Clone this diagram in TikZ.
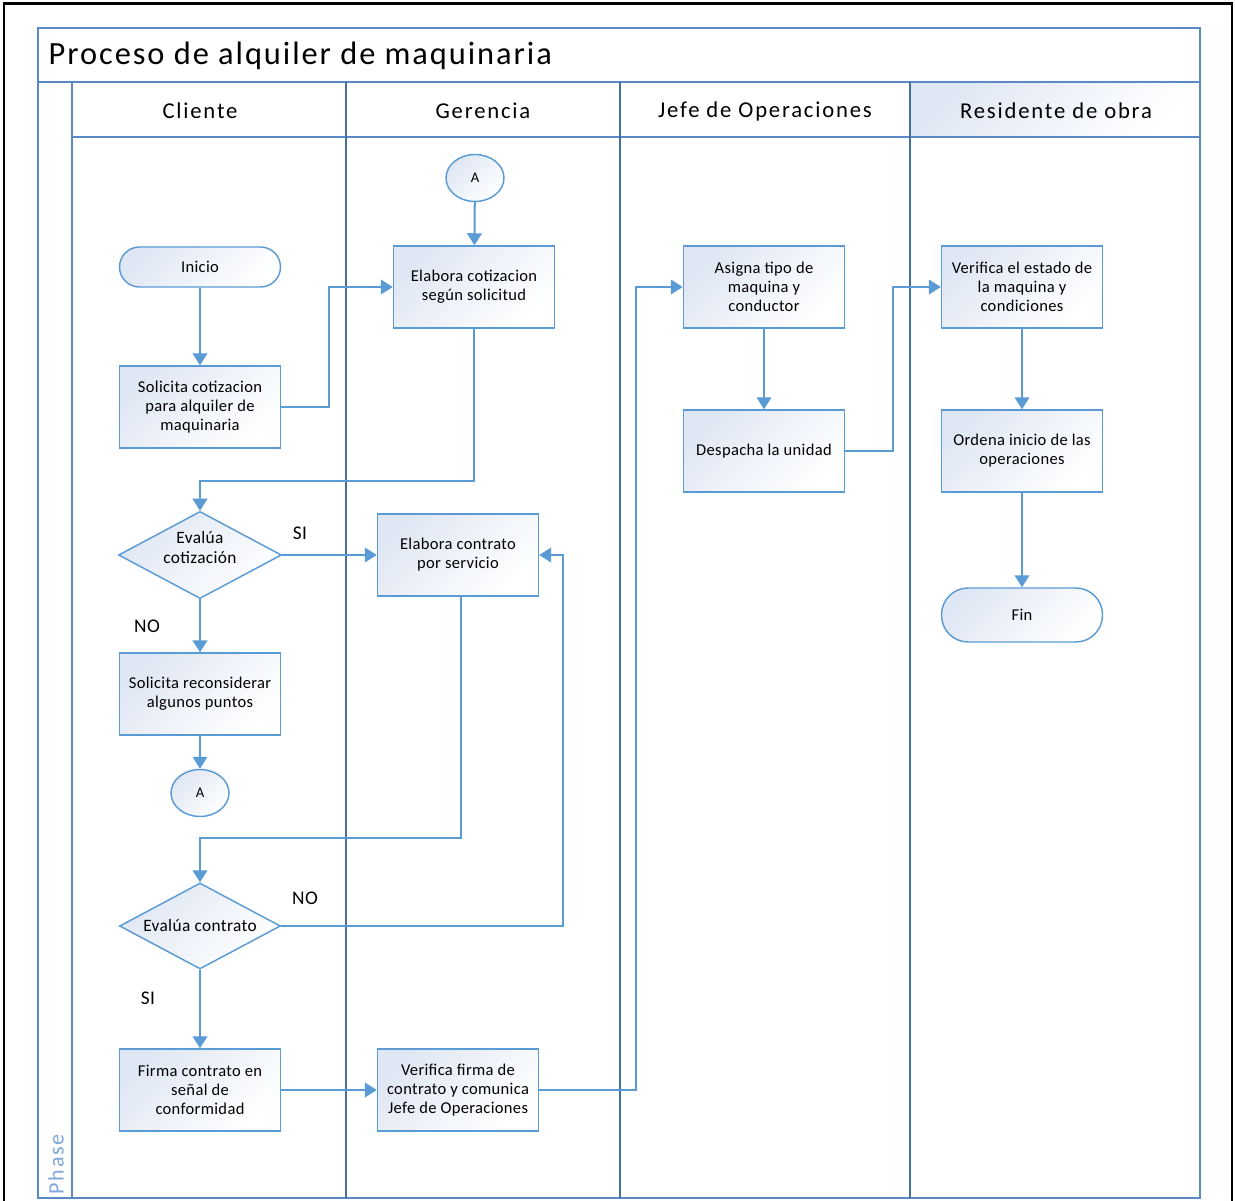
\documentclass[tikz,border=0pt]{standalone}
\usepackage{fontspec}
\setmainfont{Carlito}
\newfontfamily\titlefont[LetterSpace=6]{Carlito}
\newfontfamily\headfont[LetterSpace=8]{Carlito}
\newfontfamily\boxfont[LetterSpace=2]{Carlito}
\usetikzlibrary{shapes.geometric,arrows.meta}
\definecolor{conn}{HTML}{5B9BD5}
\definecolor{lane}{HTML}{41719C}
\definecolor{frame}{HTML}{5A8AC6}
\definecolor{boxfill}{HTML}{DFE7F4}
\definecolor{phasec}{HTML}{7FA7D9}
\tikzset{
  shade45/.style={top color=boxfill, bottom color=white, shading angle=45},
  proc/.style={draw=conn, line width=1.1pt, rectangle, minimum width=120.75pt, minimum height=61.5pt, inner sep=1pt, align=center, font=\boxfont\fontsize{12.4}{14.3}\selectfont, shade45},
  term/.style={proc, minimum height=30pt, rounded corners=15pt},
  termb/.style={proc, minimum height=40.5pt, rounded corners=20pt},
  dec/.style={draw=conn, line width=1.1pt, diamond, aspect=1.87, minimum width=120.75pt, minimum height=64.5pt, inner sep=0pt, align=center, font=\boxfont\fontsize{13}{15.5}\selectfont, shade45},
  conref/.style={draw=conn, line width=1.1pt, ellipse, minimum width=43.5pt, minimum height=35.25pt, inner sep=0pt, font=\boxfont\fontsize{11}{12}\selectfont, shade45},
  flow/.style={draw=conn, line width=1.5pt, -{Triangle[length=9pt,width=11pt]}},
  lbl/.style={font=\boxfont\fontsize{14.5}{16}\selectfont},
  hdr/.style={font=\headfont\fontsize{17}{19}\selectfont},
  lanel/.style={draw=lane, line width=1.5pt},
  framel/.style={draw=frame, line width=1.1pt}
}
\begin{document}
\begin{tikzpicture}[x=0.75pt,y=-0.75pt]
\useasboundingbox (0,0) rectangle (1235,1201);
\fill[white] (0,0) rectangle (1235,1201);
% outer black border
\draw[line width=2.2pt] (4,1215) -- (4,3.5) -- (1232,3.5) -- (1232,1215);
% Residente header fill
\shade[shade45] (910,82) rectangle (1200,137);
% frame
\draw[framel] (38,28) rectangle (1200,1198);
\draw[framel] (38,82) -- (1200,82);
\draw[framel] (72,82) -- (72,1198);
\draw[framel] (72,137) -- (1200,137);
% lane dividers
\draw[lanel] (346,82) -- (346,1198);
\draw[lanel] (620,82) -- (620,1198);
\draw[lanel] (910,82) -- (910,1198);
% titles
\node[anchor=west, font=\titlefont\fontsize{24.3}{27}\selectfont] (title) at (44,56) {Proceso de alquiler de maquinaria};
\node[hdr] (hcli) at (200,111) {Cliente};
\node[hdr] (hger) at (483,111) {Gerencia};
\node[hdr] (hjef) at (765,111) {Jefe de Operaciones};
\node[hdr] (hres) at (1056,111) {Residente de obra};
\node[rotate=90, anchor=west, text=phasec, font=\headfont\fontsize{16.5}{18}\selectfont] (phase) at (56,1199) {Phase};
% nodes
\node[conref] (a1) at (475,178) {A};
\node[term] (ini) at (200,267) {Inicio};
\node[proc] (sol) at (200,407) {Solicita cotizacion\\para alquiler de\\maquinaria};
\node[proc] (elc) at (474,287) {Elabora cotizacion\\según solicitud};
\node[dec] (evc) at (200,555) {Evalúa\\cotización\\[-4pt]};
\node[proc] (elk) at (458,555) {Elabora contrato\\por servicio};
\node[proc] (rec) at (200,694) {Solicita reconsiderar\\algunos puntos};
\node[conref] (a2) at (200,793) {A};
\node[dec] (evk) at (200,926) {Evalúa contrato};
\node[proc] (fir) at (200,1090) {Firma contrato en\\señal de\\conformidad};
\node[proc] (ver) at (458,1090) {Verifica firma de\\contrato y comunica\\Jefe de Operaciones};
\node[proc] (asi) at (764,287) {Asigna tipo de\\maquina y\\conductor};
\node[proc] (des) at (764,451) {Despacha la unidad};
\node[proc] (vee) at (1022,287) {Verifica el estado de\\la maquina y\\condiciones};
\node[proc] (ord) at (1022,451) {Ordena inicio de las\\operaciones};
\node[termb] (fin) at (1022,615) {Fin};
% connectors
\draw[flow] (a1) -- (elc);
\draw[flow] (ini) -- (sol);
\draw[flow] (sol.east) -- (329,407) -- (329,287) -- (elc.west);
\draw[flow] (elc.south) -- (474,481) -- (200,481) -- (evc.north);
\draw[flow] (evc.east) -- (elk.west);
\draw[flow] (evc.south) -- (rec.north);
\draw[flow] (rec.south) -- (a2.north);
\draw[flow] (elk.south -| 461,0) -- (461,838) -- (200,838) -- (evk.north);
\draw[flow] (evk.east) -- (563,926) -- (563,555) -- (elk.east);
\draw[flow] (evk.south) -- (fir.north);
\draw[flow] (fir.east) -- (ver.west);
\draw[flow] (ver.east) -- (636,1090) -- (636,287) -- (asi.west);
\draw[flow] (asi.south) -- (des.north);
\draw[flow] (des.east) -- (893,451) -- (893,287) -- (vee.west);
\draw[flow] (vee.south) -- (ord.north);
\draw[flow] (ord.south) -- (fin.north);
% labels
\node[lbl] (l1) at (300,533) {SI};
\node[lbl] (l2) at (147,626) {NO};
\node[lbl] (l3) at (305,898) {NO};
\node[lbl] (l4) at (148,998) {SI};
\end{tikzpicture}
\end{document}
